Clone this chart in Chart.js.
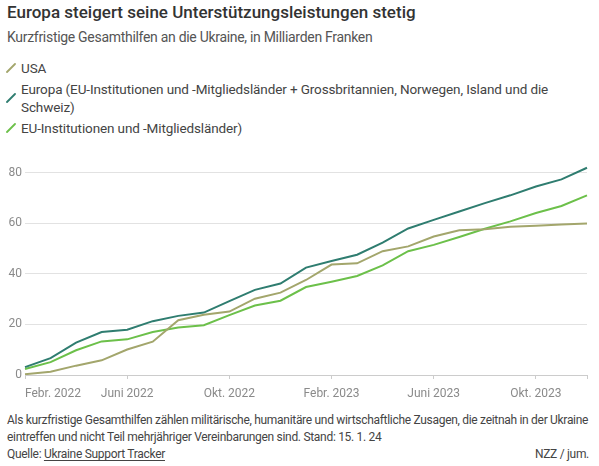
<!DOCTYPE html>
<html lang="de">
<head>
<meta charset="utf-8">
<title>Europa steigert seine Unterstützungsleistungen stetig</title>
<script src="https://cdn.jsdelivr.net/npm/chart.js@4.4.1/dist/chart.umd.min.js"></script>
<style>
  html, body { margin: 0; padding: 0; background: #fff; }
  body { width: 599px; height: 466px; position: relative; overflow: hidden; font-family: Roboto, "Noto Sans", sans-serif; color: #333; }
  #title { position: absolute; left: 7px; top: 0px; font-size: 17px; font-weight: 500; line-height: 24px; color: #333; white-space: nowrap; }
  #subtitle { position: absolute; left: 7px; top: 27px; font-size: 14px; letter-spacing: -0.3px; line-height: 20px; color: #555; white-space: nowrap; }
  #legend { position: absolute; left: 6px; top: 59px; width: 575px; font-size: 13.5px; letter-spacing: -0.12px; line-height: 18px; color: #444; }
  .item { position: relative; padding-left: 15px; margin-bottom: 3px; }
  .item svg { position: absolute; left: 0; top: 50%; margin-top: -5px; }
  #chartBox { position: absolute; left: 0; top: 150px; width: 599px; height: 255px; }
  #footer { position: absolute; left: 7px; top: 412px; width: 582px; font-size: 12px; letter-spacing: -0.3px; line-height: 17px; color: #444; white-space: nowrap; }
  #footer a { color: #444; text-decoration: underline; text-underline-offset: 2px; }
  #credit { position: absolute; right: 0; bottom: 0; }
</style>
</head>
<body>
<div id="title">Europa steigert seine Unterstützungsleistungen stetig</div>
<div id="subtitle">Kurzfristige Gesamthilfen an die Ukraine, in Milliarden Franken</div>
<div id="legend"></div>
<div id="chartBox"><canvas id="trendChart"></canvas></div>
<div id="footer">
  Als kurzfristige Gesamthilfen zählen militärische, humanitäre und wirtschaftliche Zusagen, die zeitnah in der Ukraine<br>
  eintreffen und nicht Teil mehrjähriger Vereinbarungen sind. Stand: 15. 1. 24<br>
  Quelle: <a>Ukraine Support Tracker</a>
  <span id="credit">NZZ / jum.</span>
</div>

<script>
// monthly values, Febr. 2022 - Dez. 2023 (Mrd. Fr.)
const months = [
    'Febr. 2022', 'März 2022', 'Apr. 2022', 'Mai 2022', 'Juni 2022', 'Juli 2022',
    'Aug. 2022', 'Sept. 2022', 'Okt. 2022', 'Nov. 2022', 'Dez. 2022', 'Jan. 2023',
    'Febr. 2023', 'März 2023', 'Apr. 2023', 'Mai 2023', 'Juni 2023', 'Juli 2023',
    'Aug. 2023', 'Sept. 2023', 'Okt. 2023', 'Nov. 2023', 'Dez. 2023'
];
const usa = [0.3, 1.3, 3.7, 5.8, 10.1, 13.2, 21.7, 23.8, 25.1, 30.2, 32.6, 37.6,
    43.7, 44.2, 49.0, 50.9, 54.8, 57.3, 57.7, 58.7, 59.1, 59.6, 60.0];
const europa = [3.1, 6.7, 12.8, 17.0, 17.9, 21.3, 23.4, 24.7, 29.2, 33.7, 36.2, 42.5,
    45.1, 47.6, 52.4, 58.0, 61.4, 64.7, 68.0, 71.1, 74.6, 77.4, 82.0];
const euOnly = [2.4, 5.1, 9.8, 13.3, 14.1, 17.0, 18.8, 19.7, 23.7, 27.5, 29.4, 34.8,
    36.9, 39.2, 43.4, 49.0, 51.5, 54.6, 57.9, 60.8, 64.1, 66.9, 71.1];
const yTicks = [0, 20, 40, 60, 80];

const series = [
    { label: 'USA', data: usa, color: '#a3a66c' },
    { label: 'Europa (EU-Institutionen und -Mitgliedsländer + Grossbritannien, Norwegen, Island und die Schweiz)', data: europa, color: '#2f7d70' },
    { label: 'EU-Institutionen und -Mitgliedsländer)', data: euOnly, color: '#6cc04a' },
];

// html legend (wraps like the original)
const legendEl = document.getElementById('legend');
series.forEach(s => {
    const div = document.createElement('div');
    div.className = 'item';
    div.innerHTML = '<svg width="10" height="10"><line x1="1" y1="9" x2="9" y2="1" stroke="' + s.color +
        '" stroke-width="1.8" stroke-linecap="round"/></svg>' + s.label;
    legendEl.appendChild(div);
});

const lastIdx = months.length - 1;
const ctx = document.getElementById('trendChart').getContext('2d');

new Chart(ctx, {
    type: 'line',
    data: {
        labels: months,
        datasets: series.map(s => ({
            label: s.label,
            data: s.data,
            borderColor: s.color,
            backgroundColor: s.color,
            borderWidth: 2,
            pointRadius: 0,
            tension: 0,
            fill: false,
        })),
    },
    options: {
        responsive: true,
        maintainAspectRatio: false,
        animation: false,
        layout: { padding: { top: 8, right: 12, left: 0, bottom: 0 } },
        plugins: {
            legend: { display: false },
            tooltip: { enabled: false },
        },
        scales: {
            x: {
                offset: false,
                grid: {
                    display: true,
                    drawOnChartArea: false,
                    drawTicks: true,
                    tickLength: 4,
                    // last (empty) tick only keeps 'inner' alignment for the first label
                    color: c => (c.index === lastIdx ? 'rgba(0,0,0,0)' : '#cccccc'),
                },
                border: { display: true, color: '#cccccc' },
                ticks: {
                    autoSkip: false,
                    maxRotation: 0,
                    align: 'inner',
                    padding: 8,
                    color: '#8a8a8a',
                    font: { family: 'Roboto', size: 12 },
                    callback: (v, i) => {
                        if (i === lastIdx) return '';
                        return i % 4 === 0 ? months[i] : null;
                    },
                },
                afterFit: scale => { scale.height = 30; },
            },
            y: {
                min: 0,
                max: 85,
                grid: {
                    drawTicks: false,
                    color: c => (c.tick && c.tick.value === 0 ? '#cccccc' : '#e2e2e2'),
                },
                border: { display: false },
                ticks: {
                    padding: 3,
                    color: '#8a8a8a',
                    font: { family: 'Roboto', size: 12 },
                },
                afterBuildTicks: scale => {
                    scale.ticks = yTicks.map(v => ({ value: v }));
                },
                afterFit: scale => { scale.width = 25; },
            },
        },
    },
});
</script>
</body>
</html>
